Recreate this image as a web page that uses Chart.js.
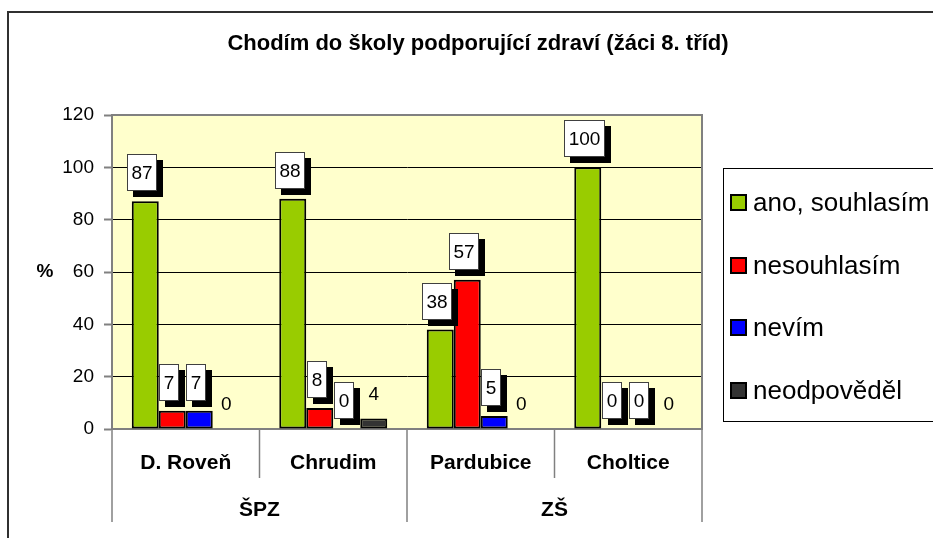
<!DOCTYPE html>
<html><head><meta charset="utf-8">
<script src="https://cdn.jsdelivr.net/npm/chart.js@4"></script>
<style>html,body{margin:0;padding:0;background:#fff}canvas{display:block}</style>
</head><body>
<canvas id="c" width="933" height="538"></canvas>
<script>
const chartTitle = 'Chodím do školy podporující zdraví (žáci 8. tříd)';
const categories = ['D. Roveň', 'Chrudim', 'Pardubice', 'Choltice'];
const groups = ['ŠPZ', 'ZŠ'];
const groupSizes = [2, 2];
const seriesNames = ['ano, souhlasím', 'nesouhlasím', 'nevím', 'neodpověděl'];
const anoValues = [87, 88, 38, 100];
const nesouhlasimValues = [7, 8, 57, 0];
const nevimValues = [7, 0, 5, 0];
const neodpovedelValues = [0, 4, 0, 0];
const seriesColors = ['#99CC00', '#FF0000', '#0000FF', '#333333'];
const yMin = 0, yMax = 120, yStep = 20;
const yTitle = '%';

const FONT = '"Liberation Sans", Arial, sans-serif';
const allValues = [anoValues, nesouhlasimValues, nevimValues, neodpovedelValues];

const deco = {
  id: 'deco',
  beforeDraw(chart) {
    const ctx = chart.ctx, a = chart.chartArea;
    ctx.save();
    ctx.fillStyle = '#fff';
    ctx.fillRect(0, 0, chart.width, chart.height);
    ctx.fillStyle = '#FFFFCC';
    ctx.fillRect(a.left, a.top, a.right - a.left, a.bottom - a.top);
    ctx.restore();
  },
  beforeDatasetsDraw(chart) {
    const ctx = chart.ctx, a = chart.chartArea;
    ctx.save();
    ctx.strokeStyle = '#808080';
    ctx.lineWidth = 2;
    ctx.strokeRect(a.left, a.top, a.right - a.left, a.bottom - a.top);
    ctx.restore();
  },
  afterDatasetsDraw(chart) {
    const ctx = chart.ctx;
    ctx.save();
    ctx.font = '19px ' + FONT;
    ctx.textAlign = 'center';
    ctx.textBaseline = 'middle';
    chart.data.datasets.forEach((ds, di) => {
      const meta = chart.getDatasetMeta(di);
      meta.data.forEach((bar, i) => {
        const txt = String(ds.data[i]);
        if (di < 3) {
          const w = Math.round(ctx.measureText(txt).width + 9), h = 37;
          const bx = Math.round(bar.x - 3 - w / 2), by = Math.round(bar.y - 10 - h);
          ctx.fillStyle = '#000';
          ctx.fillRect(bx + 6, by + 6, w, h);
          ctx.fillStyle = '#fff';
          ctx.fillRect(bx, by, w, h);
          ctx.strokeStyle = '#404040';
          ctx.lineWidth = 1;
          ctx.strokeRect(bx + 0.5, by + 0.5, w - 1, h - 1);
          ctx.fillStyle = '#000';
          ctx.fillText(txt, bx + w / 2, by + h / 2 + 1);
        } else {
          ctx.fillStyle = '#000';
          ctx.fillText(txt, bar.x, bar.y - 24);
        }
      });
    });
    ctx.restore();
  },
  afterDraw(chart) {
    const ctx = chart.ctx, a = chart.chartArea;
    const xs = chart.scales.x;
    ctx.save();
    // outer border
    ctx.strokeStyle = '#303030';
    ctx.lineWidth = 2;
    ctx.strokeRect(8, 12, 950, 560);
    // title
    ctx.fillStyle = '#000';
    ctx.font = 'bold 22px ' + FONT;
    ctx.textAlign = 'center';
    ctx.textBaseline = 'middle';
    ctx.fillText(chartTitle, 478, 44);
    // y title
    ctx.font = 'bold 19px ' + FONT;
    ctx.fillText(yTitle, 45, 272);
    // category separators
    const n = categories.length;
    const cw = (a.right - a.left) / n;
    const bnd = i => a.left + i * cw;
    ctx.strokeStyle = '#808080';
    ctx.lineWidth = 1.5;
    const groupStarts = [0];
    groupSizes.forEach((s, k) => groupStarts.push(groupStarts[k] + s));
    for (let i = 0; i <= n; i++) {
      const isGroup = groupStarts.includes(i);
      ctx.beginPath();
      ctx.moveTo(bnd(i), a.bottom);
      ctx.lineTo(bnd(i), isGroup ? 522 : 478);
      ctx.stroke();
    }
    ctx.font = 'bold 21px ' + FONT;
    categories.forEach((c, i) => {
      ctx.fillText(c, xs.getPixelForValue(i), 463);
    });
    groups.forEach((g, k) => {
      const x0 = bnd(groupStarts[k]), x1 = bnd(groupStarts[k + 1]);
      ctx.fillText(g, (x0 + x1) / 2, 510);
    });
    // legend
    ctx.strokeStyle = '#000';
    ctx.lineWidth = 1;
    ctx.strokeRect(723.5, 168.5, 240, 253);
    const itemY = [203, 266, 328, 391];
    ctx.font = '26px ' + FONT;
    ctx.textAlign = 'left';
    seriesNames.forEach((s, i) => {
      const y = itemY[i];
      ctx.fillStyle = seriesColors[i];
      ctx.fillRect(731, y - 8, 15, 15);
      ctx.strokeStyle = '#000';
      ctx.lineWidth = 2;
      ctx.strokeRect(731, y - 8, 15, 15);
      ctx.fillStyle = '#000';
      ctx.fillText(s, 753, y + 1);
    });
    ctx.restore();
  }
};

new Chart(document.getElementById('c'), {
  type: 'bar',
  data: {
    labels: categories,
    datasets: seriesNames.map((name, i) => ({
      label: name,
      data: allValues[i],
      backgroundColor: seriesColors[i],
      borderColor: '#000',
      borderWidth: 2,
      borderSkipped: false,
      categoryPercentage: 0.732,
      barPercentage: 1.0
    }))
  },
  options: {
    responsive: false,
    animation: false,
    devicePixelRatio: 1,
    layout: { padding: { left: 0, top: 115, right: 231, bottom: 109 } },
    plugins: { legend: { display: false }, title: { display: false }, tooltip: { enabled: false } },
    scales: {
      x: { display: false },
      y: {
        min: yMin, max: yMax,
        ticks: { stepSize: yStep, color: '#000', font: { family: FONT, size: 19 }, padding: 10 },
        grid: { color: '#000', lineWidth: 1, tickLength: 8, tickColor: '#808080', tickWidth: 2 },
        border: { display: true, color: '#808080', width: 2 },
        afterFit(scale) { scale.width = 112; }
      }
    }
  },
  plugins: [deco]
});
</script>
</body></html>
